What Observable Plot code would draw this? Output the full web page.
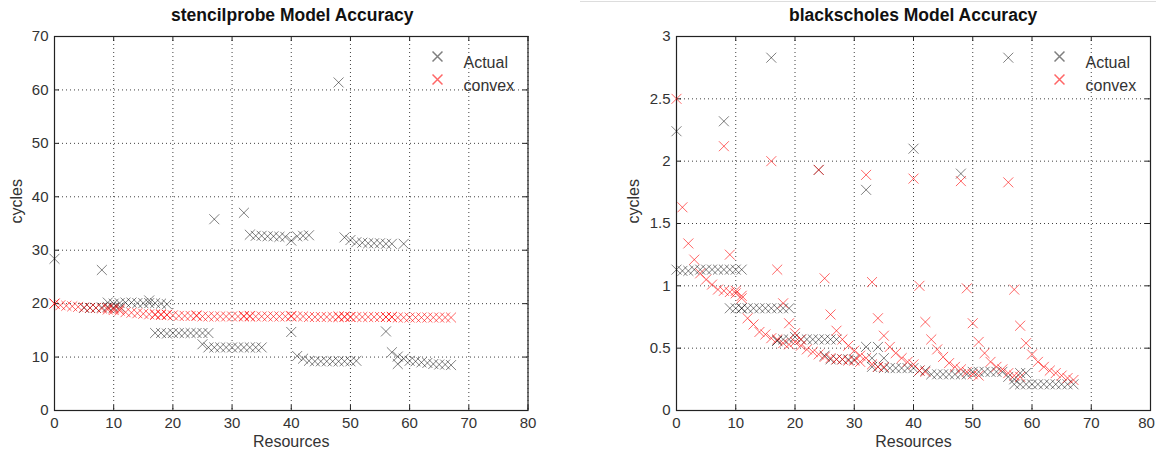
<!DOCTYPE html>
<html><head><meta charset="utf-8">
<script src="https://cdn.jsdelivr.net/npm/d3@7"></script>
<script src="https://cdn.jsdelivr.net/npm/@observablehq/plot@0.6"></script>
<style>
body{margin:0;background:#fff;font-family:"Liberation Sans",Arial,sans-serif;}
#wrap{position:relative;width:1156px;height:458px;overflow:hidden;background:#fff;}
.panel{position:absolute;top:0;}
.title{position:absolute;top:5px;font-weight:bold;font-size:17.5px;line-height:20px;white-space:nowrap;color:#111;}
.sep{position:absolute;left:580px;top:1px;width:576px;height:1px;background:#ddd;}
</style></head>
<body><div id="wrap"></div>
<script>
// ---------- shared ----------
const xTicks = [0, 10, 20, 30, 40, 50, 60, 70, 80];
const legendLabels = ["Actual", "convex"];
const xLabel = "Resources";
const yLabel = "cycles";

// ---------- stencilprobe ----------
const stencilTitle = "stencilprobe Model Accuracy";
const stencilYTicks = [0, 10, 20, 30, 40, 50, 60, 70];
const stencilActualRes = [0, 5, 6, 7, 8, 8, 9, 9, 10, 10, 11, 11, 12, 13, 14, 15, 16, 16, 17, 18, 19,
  17, 18, 19, 20, 21, 22, 23, 24, 25, 26,
  25, 26, 27, 28, 29, 30, 31, 32, 33, 34, 35,
  27, 32,
  33, 34, 35, 36, 37, 38, 39, 40, 41, 42, 43,
  40,
  41, 42, 43, 44, 45, 46, 47, 48, 49, 50, 51,
  48,
  49, 50, 51, 52, 53, 54, 55, 56, 57, 59,
  56,
  57, 58, 58, 59, 60, 61, 62, 63, 64, 65, 66, 67];
const stencilActualCycles = [28.4, 19.2, 19.2, 19.2, 19.3, 26.3, 20.2, 19.4, 20.0, 19.3, 20.1, 19.4, 20.2, 20.2, 20.1, 20.1, 20.6, 20.1, 20.1, 20.0, 19.9,
  14.5, 14.5, 14.4, 14.5, 14.5, 14.5, 14.5, 14.5, 14.5, 14.5,
  12.4, 11.8, 11.8, 11.8, 11.8, 11.8, 11.8, 11.8, 11.8, 11.8, 11.8,
  35.8, 37.0,
  32.9, 32.7, 32.7, 32.6, 32.6, 32.5, 32.5, 31.8, 32.6, 32.7, 32.8,
  14.7,
  10.2, 9.7, 9.3, 9.2, 9.2, 9.2, 9.2, 9.2, 9.2, 9.2, 9.3,
  61.4,
  32.4, 31.9, 31.5, 31.4, 31.3, 31.3, 31.3, 31.2, 31.2, 31.2,
  14.8,
  10.9, 10.1, 8.7, 9.7, 9.3, 9.2, 9.0, 8.9, 8.7, 8.6, 8.6, 8.5];
const stencilConvexRes = [0, 1, 2, 3, 4, 5, 6, 7, 8, 9, 10, 11, 12, 13, 14, 15, 16, 17, 18, 19,
  20, 21, 22, 23, 24, 25, 26, 27, 28, 29, 30, 31, 32, 33, 34, 35, 36, 37, 38, 39,
  40, 41, 42, 43, 44, 45, 46, 47, 48, 49, 50, 51, 52, 53, 54, 55, 56, 57, 58, 59,
  60, 61, 62, 63, 64, 65, 66, 67,
  0, 9, 10, 11, 17, 18, 19, 24, 32, 33, 40, 48, 49, 50, 56, 57];
const stencilConvexCycles = [20.0, 19.7, 19.6, 19.5, 19.4, 19.3, 19.2, 19.2, 19.1, 18.9, 18.8, 18.7, 18.4, 18.3, 18.2, 18.1, 18.0, 17.9, 17.9, 17.9,
  17.8, 17.7, 17.7, 17.7, 17.7, 17.6, 17.6, 17.6, 17.6, 17.6, 17.6, 17.6, 17.6, 17.6, 17.6, 17.6, 17.6, 17.6, 17.6, 17.6,
  17.6, 17.6, 17.6, 17.5, 17.5, 17.5, 17.5, 17.5, 17.5, 17.5, 17.5, 17.5, 17.5, 17.5, 17.5, 17.5, 17.5, 17.5, 17.4, 17.4,
  17.4, 17.4, 17.4, 17.4, 17.4, 17.4, 17.4, 17.4,
  20.0, 19.2, 19.1, 19.0, 18.0, 18.0, 17.9, 17.8, 17.7, 17.7, 17.7, 17.6, 17.6, 17.5, 17.5, 17.5];

// ---------- blackscholes ----------
const bsTitle = "blackscholes Model Accuracy";
const bsYTicks = [0, 0.5, 1, 1.5, 2, 2.5, 3];
const bsActualRes = [0, 0, 1, 2, 3, 4, 5, 6, 7, 8, 9, 10, 11,
  8,
  9, 10, 11, 11, 12, 13, 14, 15, 16, 17, 18, 19,
  16,
  17, 17, 18, 19, 20, 21, 22, 23, 24, 25, 26, 27,
  24,
  25, 26, 27, 28, 29, 30,
  32, 32, 33, 34, 35, 33, 34, 35, 36, 37, 38, 39,
  40, 40, 41, 42, 43, 44, 45, 46, 47, 48, 49,
  48,
  50, 51, 52, 53, 54, 55, 56,
  56,
  57, 58, 59, 57, 58, 59, 60, 61, 62, 63, 64, 65, 66, 67];
const bsActualCycles = [2.24, 1.13, 1.12, 1.12, 1.13, 1.13, 1.13, 1.13, 1.13, 1.13, 1.13, 1.13, 1.13,
  2.32,
  0.82, 0.82, 0.82, 0.82, 0.82, 0.82, 0.82, 0.82, 0.82, 0.82, 0.82, 0.82,
  2.83,
  0.56, 0.56, 0.57, 0.57, 0.59, 0.57, 0.57, 0.57, 0.57, 0.57, 0.57, 0.57,
  1.93,
  0.44, 0.41, 0.41, 0.41, 0.41, 0.41,
  1.77, 0.51, 0.42, 0.51, 0.42, 0.35, 0.35, 0.34, 0.34, 0.34, 0.34, 0.34,
  2.10, 0.34, 0.32, 0.32, 0.29, 0.29, 0.29, 0.29, 0.29, 0.29, 0.29,
  1.90,
  0.31, 0.31, 0.31, 0.31, 0.31, 0.31, 0.27,
  2.83,
  0.25, 0.30, 0.30, 0.21, 0.21, 0.21, 0.21, 0.21, 0.21, 0.21, 0.21, 0.21, 0.21, 0.21];
const bsConvexRes = [0, 1, 2, 3, 4, 5, 6, 7,
  8, 8, 9, 9, 10, 10, 11, 11,
  12, 13, 14, 15,
  16, 16, 17, 17, 18, 18, 19, 19, 20, 20, 21, 21, 22, 23,
  24, 24, 25, 25, 26, 26, 27, 27, 28, 28, 29, 29, 30, 30, 31, 31,
  32, 32, 33, 33, 34, 34, 35, 35, 36, 37, 38, 39,
  40, 40, 41, 41, 42, 42, 43, 44, 45, 46, 47,
  48, 48, 49, 49, 50, 50, 51, 51, 52, 53, 54, 55,
  56, 56, 57, 57, 58, 58, 59, 60, 61, 62, 63, 64, 65, 66, 67];
const bsConvexCycles = [2.50, 1.63, 1.34, 1.21, 1.10, 1.05, 1.01, 0.97,
  2.12, 0.96, 1.25, 0.95, 0.96, 0.94, 0.92, 0.90,
  0.74, 0.69, 0.63, 0.61,
  2.00, 0.58, 1.13, 0.57, 0.86, 0.54, 0.70, 0.53, 0.62, 0.55, 0.57, 0.52, 0.49, 0.47,
  1.93, 0.45, 1.06, 0.43, 0.77, 0.42, 0.64, 0.41, 0.57, 0.41, 0.52, 0.40, 0.48, 0.40, 0.44, 0.39,
  1.89, 0.42, 1.03, 0.37, 0.74, 0.35, 0.60, 0.35, 0.51, 0.46, 0.42, 0.39,
  1.86, 0.37, 1.00, 0.32, 0.71, 0.31, 0.57, 0.49, 0.43, 0.38, 0.35,
  1.84, 0.33, 0.98, 0.31, 0.70, 0.29, 0.55, 0.28, 0.46, 0.39, 0.35, 0.33,
  1.83, 0.30, 0.97, 0.28, 0.68, 0.27, 0.54, 0.45, 0.39, 0.35, 0.32, 0.30, 0.28, 0.26, 0.245];

// ---------- drawing ----------
const wrap = document.getElementById("wrap");
const H = 458, MT = 36, MB = 48;
const INNER_H = H - MT - MB;
const actualColor = "#000", convexColor = "#ff0000";
const markerR = 4.6;

function toRows(xs, ys) { return xs.map((x, i) => ({x, y: ys[i]})); }

function panel(o) {
  const innerW = o.width - o.marginLeft - o.marginRight;
  const gridStyle = {stroke: "#000", strokeOpacity: 0.75, strokeDasharray: "1,3"};
  const mainXTicks = o.lastTickDx ? xTicks.slice(0, -1) : xTicks;
  const lastXTicks = o.lastTickDx ? xTicks.slice(-1) : [];
  const chart = Plot.plot({
    width: o.width, height: H,
    marginLeft: o.marginLeft, marginRight: o.marginRight, marginTop: MT, marginBottom: MB,
    style: {fontFamily: "'Liberation Sans', Arial, sans-serif", fontSize: "15px", color: "#333", background: "transparent"},
    x: {domain: [xTicks[0], xTicks[xTicks.length - 1]]},
    y: {domain: [o.yTicks[0], o.yTicks[o.yTicks.length - 1]]},
    marks: [
      Plot.gridX(xTicks, gridStyle),
      Plot.gridY(o.yTicks, gridStyle),
      Plot.tickX(xTicks, {x: d => d, stroke: "#222", insetTop: INNER_H - 5}),
      Plot.tickX(xTicks, {x: d => d, stroke: "#222", insetBottom: INNER_H - 5}),
      Plot.tickY(o.yTicks, {y: d => d, stroke: "#222", insetRight: innerW - 5}),
      Plot.tickY(o.yTicks, {y: d => d, stroke: "#222", insetLeft: innerW - 5}),
      Plot.frame({stroke: "#222", strokeWidth: 1.2}),
      Plot.axisX(mainXTicks, {anchor: "bottom", tickSize: 0, tickPadding: 7, label: null, fontSize: 15, fill: "#333"}),
      Plot.axisX(lastXTicks, {anchor: "bottom", tickSize: 0, tickPadding: 7, label: null, fontSize: 15, fill: "#333", dx: o.lastTickDx || 0}),
      Plot.axisY(o.yTicks, {anchor: "left", tickSize: 0, tickPadding: 6, label: null, fontSize: 15, fill: "#333", tickFormat: d => String(d)}),
      Plot.dot(toRows(o.aX, o.aY), {x: "x", y: "y", symbol: "times", r: markerR, stroke: actualColor, strokeOpacity: 0.5, strokeWidth: 1}),
      Plot.dot(toRows(o.cX, o.cY), {x: "x", y: "y", symbol: "times", r: markerR, stroke: convexColor, strokeOpacity: 0.6, strokeWidth: 1}),
      // legend
      Plot.dot([legendLabels[0]], {frameAnchor: "top-right", dx: o.legendDx, dy: 20, symbol: "times", r: markerR, stroke: actualColor, strokeOpacity: 0.5}),
      Plot.dot([legendLabels[1]], {frameAnchor: "top-right", dx: o.legendDx, dy: 43, symbol: "times", r: markerR, stroke: convexColor, strokeOpacity: 0.6}),
      Plot.text([legendLabels[0]], {text: d => d, frameAnchor: "top-right", dx: o.legendDx + 26, dy: 20, textAnchor: "start", fontSize: 16, fill: "#333"}),
      Plot.text([legendLabels[1]], {text: d => d, frameAnchor: "top-right", dx: o.legendDx + 26, dy: 43, textAnchor: "start", fontSize: 16, fill: "#333"}),
      // axis labels
      Plot.text([xLabel], {text: d => d, frameAnchor: "bottom", dy: 36, fontSize: 16, fill: "#333"}),
      Plot.text([yLabel], {text: d => d, frameAnchor: "left", dx: o.yLabelDx, rotate: -90, fontSize: 16, fill: "#333"})
    ]
  });
  const holder = document.createElement("div");
  holder.className = "panel";
  holder.style.left = o.left + "px";
  holder.appendChild(chart);
  wrap.appendChild(holder);

  const t = document.createElement("div");
  t.className = "title";
  t.style.left = o.titleLeft + "px";
  t.textContent = o.title;
  wrap.appendChild(t);
}

panel({left: 0, width: 560, marginLeft: 54, marginRight: 32.5,
  yTicks: stencilYTicks, aX: stencilActualRes, aY: stencilActualCycles, cX: stencilConvexRes, cY: stencilConvexCycles,
  legendDx: -90.5, yLabelDx: -38, title: stencilTitle, titleLeft: 171});

panel({left: 580, width: 576, marginLeft: 96, marginRight: 6,
  yTicks: bsYTicks, aX: bsActualRes, aY: bsActualCycles, cX: bsConvexRes, cY: bsConvexCycles,
  legendDx: -91, yLabelDx: -43, title: bsTitle, titleLeft: 789, lastTickDx: -4});

const sep = document.createElement("div");
sep.className = "sep";
wrap.appendChild(sep);
</script>
</body></html>
